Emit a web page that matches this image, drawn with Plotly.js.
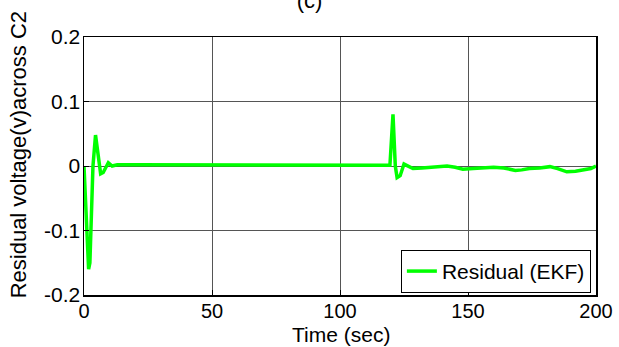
<!DOCTYPE html>
<html>
<head>
<meta charset="utf-8">
<script src="https://cdn.plot.ly/plotly-3.0.1.min.js"></script>
<style>html,body{margin:0;padding:0;background:#fff;}#chart{width:619px;height:347px;}</style>
</head>
<body>
<div id="chart"></div>
<script>
var timeSec = [0, 0.8, 1.8, 2.3, 3.5, 4.5, 5.5, 6.5, 7.5, 9.5, 11, 13, 20, 30, 40, 50, 60, 70, 80, 90, 100, 104, 110, 115, 119.5, 120.7, 121.6, 122.3, 123.5, 125, 126.5, 128.5, 132, 137, 141.8, 145, 148, 152, 156, 160, 164, 168.5, 171, 174, 178, 182, 185, 188.6, 192, 195, 198, 200];
var residualEKF = [0, -0.06, -0.16, -0.15, 0.0, 0.048, 0.02, -0.012, -0.01, 0.005, 0.0, 0.002, 0.002, 0.002, 0.002, 0.002, 0.002, 0.0015, 0.0015, 0.0015, 0.0015, 0.001, 0.001, 0.001, 0.001, 0.08, 0.0, -0.018, -0.015, 0.003, 0.0, -0.004, -0.003, -0.002, 0.0, -0.002, -0.005, -0.004, -0.003, -0.002, -0.003, -0.007, -0.006, -0.004, -0.003, -0.001, -0.004, -0.009, -0.008, -0.006, -0.004, 0.0];
var xTicks = [0, 50, 100, 150, 200];
var yTicks = [-0.2, -0.1, 0, 0.1, 0.2];
var yTickText = ['-0.2', '-0.1', '0', '0.1', '0.2'];

var font = 'Liberation Sans, Arial, Helvetica, sans-serif';
var trace = {
  x: timeSec, y: residualEKF, type: 'scatter', mode: 'lines',
  name: 'Residual (EKF)',
  line: {color: '#00ff00', width: 3.5}
};
var layout = {
  width: 619, height: 347,
  margin: {l: 84, r: 23, t: 37, b: 52},
  paper_bgcolor: '#fff', plot_bgcolor: '#fff',
  font: {family: font, size: 21, color: '#000'},
  title: {text: '(c)', x: 0.5, xref: 'container', y: 1.0, yref: 'container', yanchor: 'middle', font: {family: font, size: 22, color: '#000'}},
  xaxis: {
    range: [0, 200], tickvals: xTicks, ticktext: xTicks.map(String),
    showgrid: true, gridcolor: '#555', gridwidth: 1,
    showline: true, linecolor: '#000', linewidth: 1.5, mirror: true,
    ticks: 'inside', ticklen: 5, tickcolor: '#000',
    zeroline: false,
    ticklabelstandoff: -3,
    tickfont: {family: font, size: 20, color: '#000'}
  },
  yaxis: {
    range: [-0.2, 0.2], tickvals: yTicks, ticktext: yTickText,
    showgrid: true, gridcolor: '#555', gridwidth: 1,
    showline: true, linecolor: '#000', linewidth: 1.5, mirror: true,
    ticks: 'inside', ticklen: 5, tickcolor: '#000',
    zeroline: false,
    ticklabelstandoff: -2,
    tickfont: {family: font, size: 21, color: '#000'}
  },
  annotations: [{
    text: 'Residual voltage(v)across C2', textangle: -90,
    xref: 'paper', yref: 'paper', x: -0.129, y: 0.545,
    xanchor: 'center', yanchor: 'middle', showarrow: false,
    font: {family: font, size: 22, color: '#000'}
  }, {
    text: 'Time (sec)',
    xref: 'paper', yref: 'paper', x: 0.502, y: -0.2,
    xanchor: 'center', yanchor: 'bottom', showarrow: false, borderpad: 0,
    font: {family: font, size: 21, color: '#000'}
  }],
  showlegend: true,
  legend: {
    x: 0.99, y: 0.008, xanchor: 'right', yanchor: 'bottom',
    bgcolor: '#fff', bordercolor: '#000', borderwidth: 1,
    font: {family: font, size: 21, color: '#000'},
    itemwidth: 30
  }
};
Plotly.newPlot('chart', [trace], layout, {displayModeBar: false, staticPlot: true});
</script>
</body>
</html>
